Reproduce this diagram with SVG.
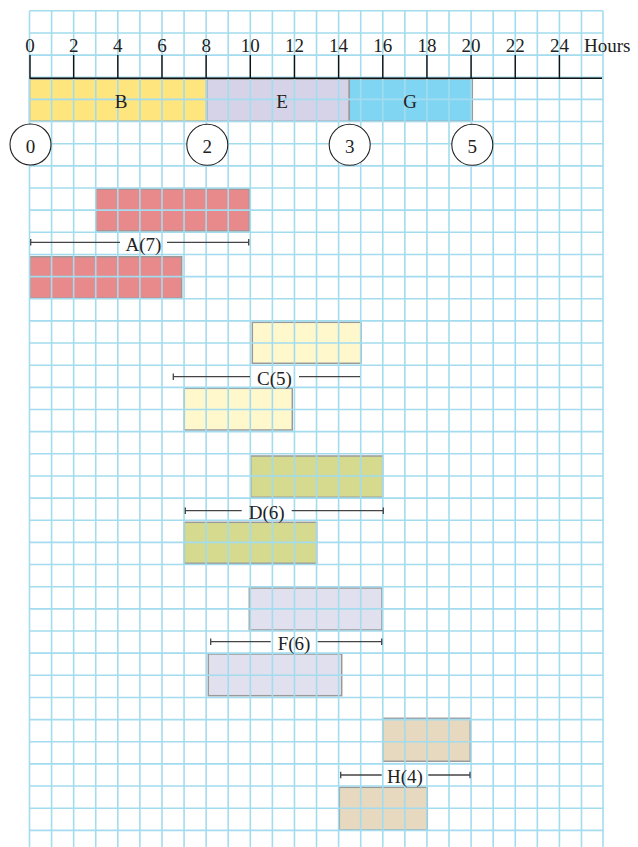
<svg xmlns="http://www.w3.org/2000/svg" width="638" height="847" viewBox="0 0 638 847">
<style>
text{font-family:"Liberation Serif","DejaVu Serif",serif;font-size:19px;fill:#222}
.c{text-anchor:middle}
.bar{stroke:#9a9a9a;stroke-width:1.5}
.grid{stroke:#a3dcee;stroke-width:1.6;fill:none}
.axis{stroke:#111;stroke-width:1.4;fill:none}
.dim{stroke:#444;stroke-width:1.3;fill:none}
.circ{fill:#fff;stroke:#222;stroke-width:1.1}
</style>
<rect width="638" height="847" fill="#fff"/>

<g id="bars">
<g id="B"><rect class="bar" x="29.5" y="79" width="177.2" height="42.3" fill="#fee57e"/></g>
<g id="E"><rect class="bar" x="206.7" y="79" width="142.6" height="42.3" fill="#d6d3e8"/></g>
<g id="G"><rect class="bar" x="349.3" y="79" width="123" height="42.3" fill="#80d5f3"/></g>
<g id="A-top"><rect class="bar" x="96" y="189" width="153.3" height="42" fill="#e8898c"/></g>
<g id="A-bottom"><rect class="bar" x="30" y="256.7" width="151.7" height="41.6" fill="#e8898c"/></g>
<g id="C-top"><rect class="bar" x="252.3" y="322.3" width="108.7" height="41" fill="#fef8cc"/></g>
<g id="C-bottom"><rect class="bar" x="184.3" y="388.3" width="108" height="41.7" fill="#fef8cc"/></g>
<g id="D-top"><rect class="bar" x="250.7" y="456" width="132" height="41.3" fill="#d5da8e"/></g>
<g id="D-bottom"><rect class="bar" x="184.3" y="522.3" width="132.4" height="41" fill="#d5da8e"/></g>
<g id="F-top"><rect class="bar" x="249.3" y="588" width="132.7" height="42" fill="#e1e0ef"/></g>
<g id="F-bottom"><rect class="bar" x="208.3" y="654" width="133.4" height="41.7" fill="#e1e0ef"/></g>
<g id="H-top"><rect class="bar" x="382.7" y="718.3" width="87.6" height="43" fill="#e6d9bf"/></g>
<g id="H-bottom"><rect class="bar" x="339.3" y="787.3" width="88" height="42.7" fill="#e6d9bf"/></g>
</g>

<g id="grid">
<path class="grid" d="M29.5 10.8V847M51.58 10.8V847M73.66 10.8V847M95.74 10.8V847M117.82 10.8V847M139.9 10.8V847M161.98 10.8V847M184.06 10.8V847M206.14 10.8V847M228.22 10.8V847M250.3 10.8V847M272.38 10.8V847M294.46 10.8V847M316.54 10.8V847M338.62 10.8V847M360.7 10.8V847M382.78 10.8V847M404.86 10.8V847M426.94 10.8V847M449.02 10.8V847M471.1 10.8V847M493.18 10.8V847M515.26 10.8V847M537.34 10.8V847M559.42 10.8V847M581.5 10.8V847M603 10.8V847"/>
<path class="grid" d="M29.5 10.8H603M29.5 32.95H603M29.5 55.1H603M29.5 77.25H603M29.5 99.4H603M29.5 121.55H603M29.5 143.7H603M29.5 165.85H603M29.5 188H603M29.5 210.15H603M29.5 232.3H603M29.5 254.45H603M29.5 276.6H603M29.5 298.75H603M29.5 320.9H603M29.5 343.05H603M29.5 365.2H603M29.5 387.35H603M29.5 409.5H603M29.5 431.65H603M29.5 453.8H603M29.5 475.95H603M29.5 498.1H603M29.5 520.25H603M29.5 542.4H603M29.5 564.55H603M29.5 586.7H603M29.5 608.85H603M29.5 631H603M29.5 653.15H603M29.5 675.3H603M29.5 697.45H603M29.5 719.6H603M29.5 741.75H603M29.5 763.9H603M29.5 786.05H603M29.5 808.2H603M29.5 830.35H603"/>
</g>

<g id="bar-labels">
<text class="c" x="121" y="108.3">B</text>
<text class="c" x="282" y="108.3">E</text>
<text class="c" x="410" y="108.3">G</text>
</g>

<g id="axis">
<path class="axis" d="M29.5 78.3H602M30 55V78.3M73.66 55V78.3M117.82 55V78.3M161.98 55V78.3M206.14 55V78.3M250.3 55V78.3M294.46 55V78.3M338.62 55V78.3M382.78 55V78.3M426.94 55V78.3M471.1 55V78.3M515.26 55V78.3M559.42 55V78.3"/>
<text class="c" x="30" y="51.5">0</text>
<text class="c" x="73.66" y="51.5">2</text>
<text class="c" x="117.82" y="51.5">4</text>
<text class="c" x="161.98" y="51.5">6</text>
<text class="c" x="206.14" y="51.5">8</text>
<text class="c" x="250.3" y="51.5">10</text>
<text class="c" x="294.46" y="51.5">12</text>
<text class="c" x="338.62" y="51.5">14</text>
<text class="c" x="382.78" y="51.5">16</text>
<text class="c" x="426.94" y="51.5">18</text>
<text class="c" x="471.1" y="51.5">20</text>
<text class="c" x="515.26" y="51.5">22</text>
<text class="c" x="559.42" y="51.5">24</text>
<text x="584" y="51.5">Hours</text>
</g>

<g id="event-0"><circle class="circ" cx="30.5" cy="144.5" r="20.5"/><text class="c" x="30.5" y="153">0</text></g>
<g id="event-2"><circle class="circ" cx="207.3" cy="144.8" r="20.5"/><text class="c" x="207.3" y="153.3">2</text></g>
<g id="event-3"><circle class="circ" cx="349.7" cy="144.8" r="20.5"/><text class="c" x="349.7" y="153.3">3</text></g>
<g id="event-5"><circle class="circ" cx="472.3" cy="144.8" r="20.5"/><text class="c" x="472.3" y="153.3">5</text></g>

<g id="connectors">
<path class="dim" d="M30.7 242.3H120M167 242.3H248.7M30.7 239V245.6M248.7 239V245.6"/>
<path class="dim" d="M173.3 376.7H250M299 376.7H360M173.3 373.4V380"/>
<path class="dim" d="M185.3 510.7H241.7M291.7 510.7H383.3M185.3 507.4V514M383.3 507.4V514"/>
<path class="dim" d="M210.7 641.7H270.7M317.7 641.7H381.7M210.7 638.4V645M381.7 638.4V645"/>
<path class="dim" d="M340.7 775H381.7M428.3 775H470M340.7 771.7V778.3M470 771.7V778.3"/>
</g>

<g id="task-labels">
<text class="c" x="143.5" y="250.5">A(7)</text>
<text class="c" x="274.5" y="384.5">C(5)</text>
<text class="c" x="266.7" y="518.5">D(6)</text>
<text class="c" x="294" y="650">F(6)</text>
<text class="c" x="405" y="783">H(4)</text>
</g>
</svg>
